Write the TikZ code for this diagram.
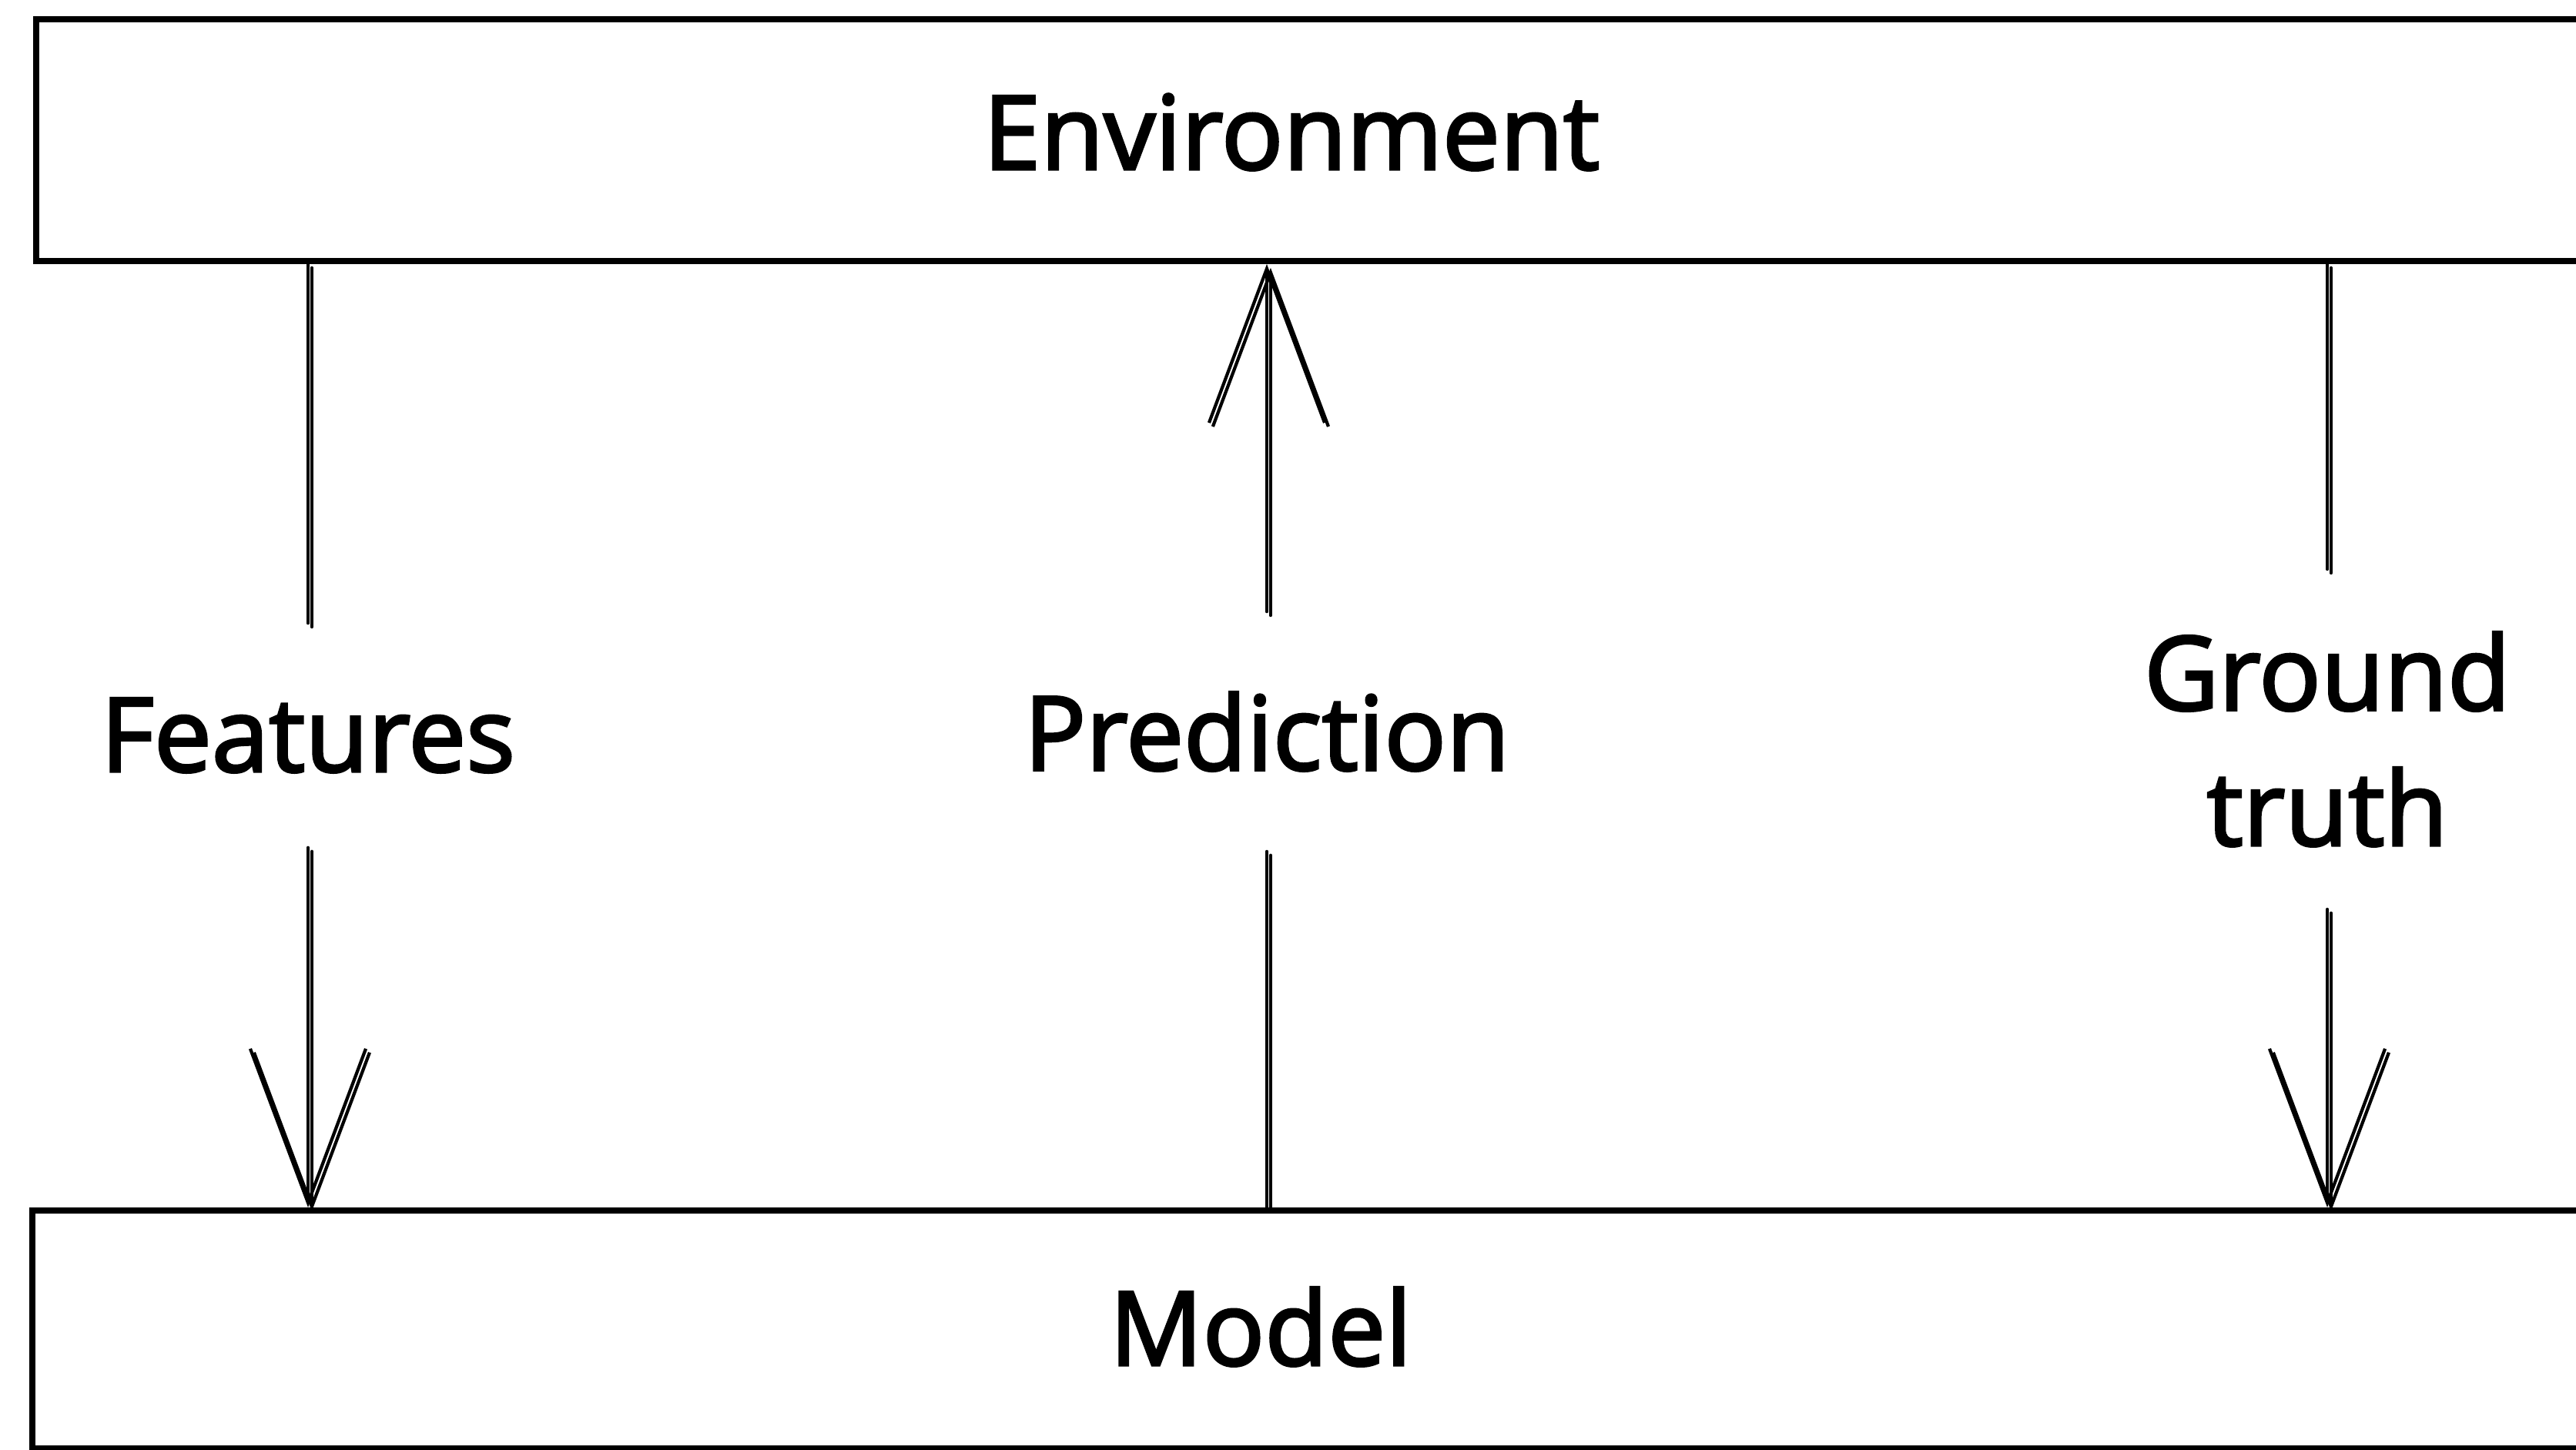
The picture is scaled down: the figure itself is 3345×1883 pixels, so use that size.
\documentclass[tikz,border=0pt]{standalone}
\usepackage{fontspec}
\setmainfont{Open Sans}[FakeBold=2.5]
\usetikzlibrary{arrows.meta, positioning}

\begin{document}
\begin{tikzpicture}[x=0.01cm, y=-0.01cm,
  box/.style={draw, line width=2.2pt, inner sep=0pt, anchor=north west},
  txt/.style={font=\fontsize{38}{50}\selectfont, inner sep=0pt, align=center},
  sketch/.style={line width=1.2pt, line cap=round,
    postaction={draw, line width=1.2pt, transform canvas={xshift=1.4pt, yshift=-1.4pt}}},
  arr/.style={-{Straight Barb[length=20mm, width=15mm]}}]
\useasboundingbox (0,0) rectangle (3345,1883);

% the two blocks run off the right edge
\node[box, minimum width=34cm, minimum height=3.14cm] (env) at (43,21) {};
\node[box, minimum width=34cm, minimum height=3.09cm] (model) at (38,1568) {};
\node[txt, anchor=base] (envtxt) at (1677,220) {Environment};
\node[txt, anchor=base] (modeltxt) at (1637,1773) {Model};

% signal labels between the blocks
\node[txt, minimum height=2.9cm] (feat) at (400,955) {Features};
\node[txt, minimum height=3.1cm] (pred) at (1645,950) {Prediction};
\node[txt, minimum height=4.4cm] (truth) at (3022,960) {Ground\\truth};

\draw[sketch] (env.south -| feat.north) -- (feat.north);
\draw[sketch, arr] (feat.south) -- (feat.south |- model.north);
\draw[sketch, arr] (pred.north) -- (pred.north |- env.south);
\draw[sketch] (pred.south) -- (pred.south |- model.north);
\draw[sketch] (env.south -| truth.north) -- (truth.north);
\draw[sketch, arr] (truth.south) -- (truth.south |- model.north);
\end{tikzpicture}
\end{document}
